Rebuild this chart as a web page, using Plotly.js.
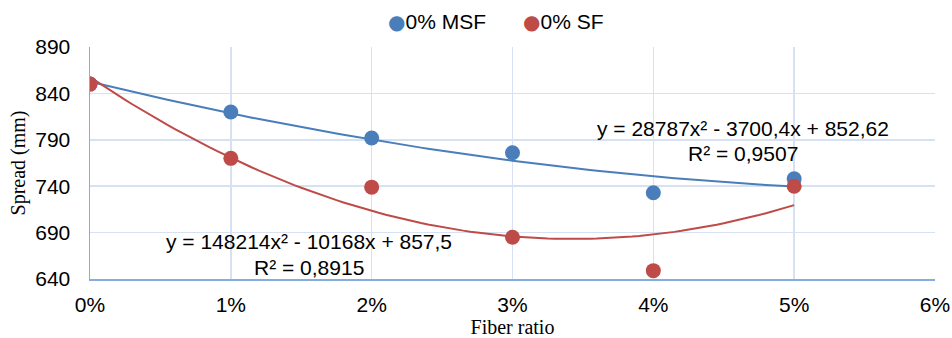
<!DOCTYPE html>
<html>
<head>
<meta charset="utf-8">
<script src="https://cdn.plot.ly/plotly-3.0.1.min.js"></script>
<style>
  html, body { margin: 0; padding: 0; background: #fff; }
  #chart { width: 952px; height: 338px; }
</style>
</head>
<body>
<div id="chart"></div>
<script>
// Fiber ratio (fraction) and measured spread values (mm)
const fiberRatio = [0, 0.01, 0.02, 0.03, 0.04, 0.05];
const spreadMSF = [850, 820, 792, 776, 733, 748];
const spreadSF = [850, 770, 739, 685, 649, 740];
const seriesNames = ['0% MSF', '0% SF'];

// Polynomial trendline coefficients [a, b, c] for y = a x^2 + b x + c
const fitMSF = [28787, -3700.4, 852.62];
const fitSF = [148214, -10168, 857.5];
const eqMSF = 'y = 28787x² - 3700,4x + 852,62';
const eqSF = 'y = 148214x² - 10168x + 857,5';
const r2MSF = "0,9507";
const r2SF = "0,8915";

const blue = '#4a7ebb';
const red = '#be4b48';

function curve(c) {
  const xs = [], ys = [];
  for (let i = 0; i <= 100; i++) {
    const x = 0.05 * i / 100;
    xs.push(x);
    ys.push(c[0] * x * x + c[1] * x + c[2]);
  }
  return { xs, ys };
}
const cM = curve(fitMSF);
const cS = curve(fitSF);

const traces = [
  { x: cM.xs, y: cM.ys, mode: 'lines', line: { color: blue, width: 2 }, hoverinfo: 'skip' },
  { x: cS.xs, y: cS.ys, mode: 'lines', line: { color: red, width: 2 }, hoverinfo: 'skip' },
  { x: fiberRatio, y: spreadMSF, mode: 'markers', name: seriesNames[0],
    marker: { color: blue, size: 15 } },
  { x: fiberRatio, y: spreadSF, mode: 'markers', name: seriesNames[1],
    marker: { color: red, size: 15 } }
];

const sans = 'Liberation Sans, Arial, sans-serif';
const serif = 'Liberation Serif, Times New Roman, serif';
const eqFont = { family: sans, size: 21, color: '#000' };

// plot-area geometry (pixels) used to place paper-referenced labels
const L = 90, W = 845, B = 279, H = 232;
const px = x => (x - L) / W;
const py = y => (B - y) / H;

const layout = {
  width: 952, height: 338,
  margin: { l: L, r: 952 - L - W, t: B - H, b: 338 - B, pad: 0 },
  paper_bgcolor: '#fff', plot_bgcolor: '#fff',
  font: { family: sans, size: 21, color: '#000' },
  showlegend: false,
  xaxis: {
    range: [0, 0.06], dtick: 0.01, tick0: 0, tickformat: '.0%',
    showgrid: true, gridcolor: '#d6e2f3', gridwidth: 1.5,
    showline: true, linecolor: '#85ade0', linewidth: 1.5,
    zeroline: false, ticks: '', ticklabelstandoff: 6,
    title: { text: 'Fiber ratio', font: { family: serif, size: 20 }, standoff: 0 }
  },
  yaxis: {
    range: [640, 890], dtick: 50, tick0: 640,
    showgrid: true, gridcolor: '#d6e2f3', gridwidth: 1.5,
    showline: true, linecolor: '#85ade0', linewidth: 1.5,
    zeroline: false, ticks: '', ticklabelstandoff: 14,
    title: { text: 'Spread (mm)', font: { family: serif, size: 20 }, standoff: 4 }
  },
  annotations: [
    // legend
    { xref: 'paper', yref: 'paper', x: px(386), y: py(22), xanchor: 'left', yanchor: 'middle',
      text: '<span style="color:' + blue + ';font-family:DejaVu Sans;font-size:20px">●</span>' + seriesNames[0],
      showarrow: false, font: { family: sans, size: 21 } },
    { xref: 'paper', yref: 'paper', x: px(521), y: py(22), xanchor: 'left', yanchor: 'middle',
      text: '<span style="color:' + red + ';font-family:DejaVu Sans;font-size:20px">●</span>' + seriesNames[1],
      showarrow: false, font: { family: sans, size: 21 } },
    // trendline equations
    { xref: 'paper', yref: 'paper', x: px(743), y: py(128), xanchor: 'center', yanchor: 'middle',
      text: eqMSF, showarrow: false, font: eqFont },
    { xref: 'paper', yref: 'paper', x: px(743), y: py(153), xanchor: 'center', yanchor: 'middle',
      text: 'R² = ' + r2MSF, showarrow: false, font: eqFont },
    { xref: 'paper', yref: 'paper', x: px(309), y: py(242), xanchor: 'center', yanchor: 'middle',
      text: eqSF, showarrow: false, font: eqFont },
    { xref: 'paper', yref: 'paper', x: px(309), y: py(267), xanchor: 'center', yanchor: 'middle',
      text: 'R² = ' + r2SF, showarrow: false, font: eqFont }
  ]
};

Plotly.newPlot('chart', traces, layout, { displayModeBar: false, staticPlot: true });
</script>
</body>
</html>
